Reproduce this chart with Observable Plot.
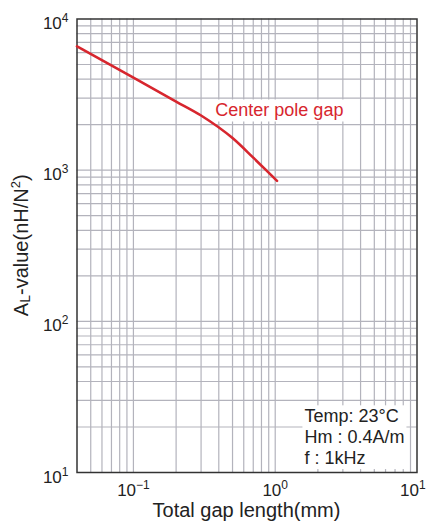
<!DOCTYPE html>
<html><head><meta charset="utf-8">
<script src="https://cdn.jsdelivr.net/npm/d3@7"></script>
<script src="https://cdn.jsdelivr.net/npm/@observablehq/plot@0.6"></script>
<style>
html,body{margin:0;padding:0;background:#fff;}
#chart{width:428px;height:522px;}
</style></head><body><div id="chart"></div>
<script>
// Data
const gapMm   = [0.04, 0.1,  0.2,  0.3,  0.5,  0.7,  1.0, 1.03];
const alValue = [6600, 4090, 2845, 2300, 1630, 1210, 873, 850];

// Ticks and grid
const xTicks = [0.1, 1, 10];
const xTickLabels = ["10|\u22121", "10|0", "10|1"];
const yTicks = [10, 100, 1000, 10000];
const yTickLabels = ["10|1", "10|2", "10|3", "10|4"];
const xGrid = [0.05,0.06,0.07,0.08,0.09,0.1,0.2,0.3,0.4,0.5,0.6,0.7,0.8,0.9,1,2,3,4,5,6,7,8,9];
const yGrid = [20,30,40,50,60,70,80,90,100,200,300,400,500,600,700,800,900,1000,2000,3000,4000,5000,6000,7000,8000,9000];

// Annotations
const curveLabel = ["Center pole gap"];
const curveLabelX = [0.378];
const curveLabelY = [2473];
const noteText = ["Temp: 23\u00B0C\nHm : 0.4A/m\nf : 1kHz"];
const noteX = [1.607];
const noteY = [17.3];
const xTitle = "Total gap length(mm)";

const FONT = "'Liberation Sans', Arial, Helvetica, sans-serif";

const fmtX = d => xTickLabels[xTicks.findIndex(t => Math.abs(t - d) < 1e-9 * t)];
const fmtY = d => yTickLabels[yTicks.findIndex(t => Math.abs(t - d) < 1e-9 * t)];

const chart = Plot.plot({
  width: 428, height: 522,
  marginLeft: 76.5, marginRight: 11.5, marginTop: 18.5, marginBottom: 50,
  style: {fontFamily: FONT, fontSize: "17px", color: "#222", background: "#fff", overflow: "visible"},
  x: {type: "log", domain: [0.04, 10]},
  y: {type: "log", domain: [10, 10000]},
  marks: [
    Plot.ruleX(xGrid, {stroke: "#b3b3bc", strokeWidth: 1.2}),
    Plot.ruleY(yGrid, {stroke: "#b3b3bc", strokeWidth: 1.2}),
    Plot.frame({stroke: "#333", strokeWidth: 1.5}),
    Plot.axisX(xTicks, {tickFormat: fmtX, tickSize: 0, tickPadding: 11, fontSize: 17, label: null}),
    Plot.axisY(yTicks, {tickFormat: fmtY, tickSize: 0, tickPadding: 8.5, dy: 4.6, fontSize: 17, label: null}),
    Plot.line(gapMm.map((g, i) => ({g, v: alValue[i]})), {x: "g", y: "v", stroke: "#d7262e", strokeWidth: 2.6, curve: "monotone-x"}),
    Plot.text(curveLabel, {x: curveLabelX, y: curveLabelY, text: d => d, textAnchor: "start", lineAnchor: "middle", fill: "#d7262e", fontSize: 18}),
    Plot.text(noteText, {x: noteX, y: noteY, text: d => d, textAnchor: "start", lineAnchor: "middle", lineHeight: 1.16, fill: "#222", fontSize: 18})
  ]
});
document.getElementById("chart").append(chart);

const svg = d3.select(chart);

// superscript tick labels
svg.selectAll("text").each(function() {
  const t = this.textContent;
  if (t && t.includes("|") && this.children.length === 0) {
    const [base, exp] = t.split("|");
    const sel = d3.select(this);
    sel.text(null);
    sel.append("tspan").text(base);
    sel.append("tspan").attr("font-size", 12).attr("dy", "-7").text(exp);
  }
});

// keep the last x tick label inside the picture
svg.selectAll('g[aria-label="x-axis tick label"] text').each(function() {
  const b = this.getBBox();
  const m = this.getScreenCTM();
  const right = m ? m.a * (b.x + b.width) + m.e : 0;
  if (right > 426) {
    const cur = parseFloat(this.getAttribute("dx") || 0);
    this.setAttribute("dx", cur - (right - 426));
  }
});

// white boxes behind annotation texts
svg.selectAll('g[aria-label="text"] text').each(function() {
  const b = this.getBBox();
  const r = document.createElementNS("http://www.w3.org/2000/svg", "rect");
  r.setAttribute("x", b.x - 2);
  r.setAttribute("y", b.y - 1);
  r.setAttribute("width", b.width + 4);
  r.setAttribute("height", b.height + 2);
  r.setAttribute("fill", "#fff");
  r.setAttribute("stroke", "none");
  const tr = this.getAttribute("transform");
  if (tr) r.setAttribute("transform", tr);
  this.parentNode.insertBefore(r, this);
});

// axis titles
const W = 428, H = 522, mL = 76.5, mR = 11.5, mT = 18.5, mB = 50;
svg.append("text")
  .attr("x", (mL + W - mR) / 2).attr("y", 516.5)
  .attr("text-anchor", "middle").attr("font-family", FONT).attr("font-size", 20).attr("fill", "#222")
  .text(xTitle);

const yt = svg.append("text")
  .attr("transform", `translate(28,${(mT + H - mB) / 2}) rotate(-90)`)
  .attr("text-anchor", "middle").attr("font-family", FONT).attr("font-size", 20).attr("fill", "#222");
yt.append("tspan").text("A");
yt.append("tspan").attr("font-size", 14).attr("dy", 2).text("L");
yt.append("tspan").attr("dy", -2).text("-value(nH/N");
yt.append("tspan").attr("font-size", 13).attr("dy", -8).text("2");
yt.append("tspan").attr("dy", 8).text(")");
</script></body></html>
